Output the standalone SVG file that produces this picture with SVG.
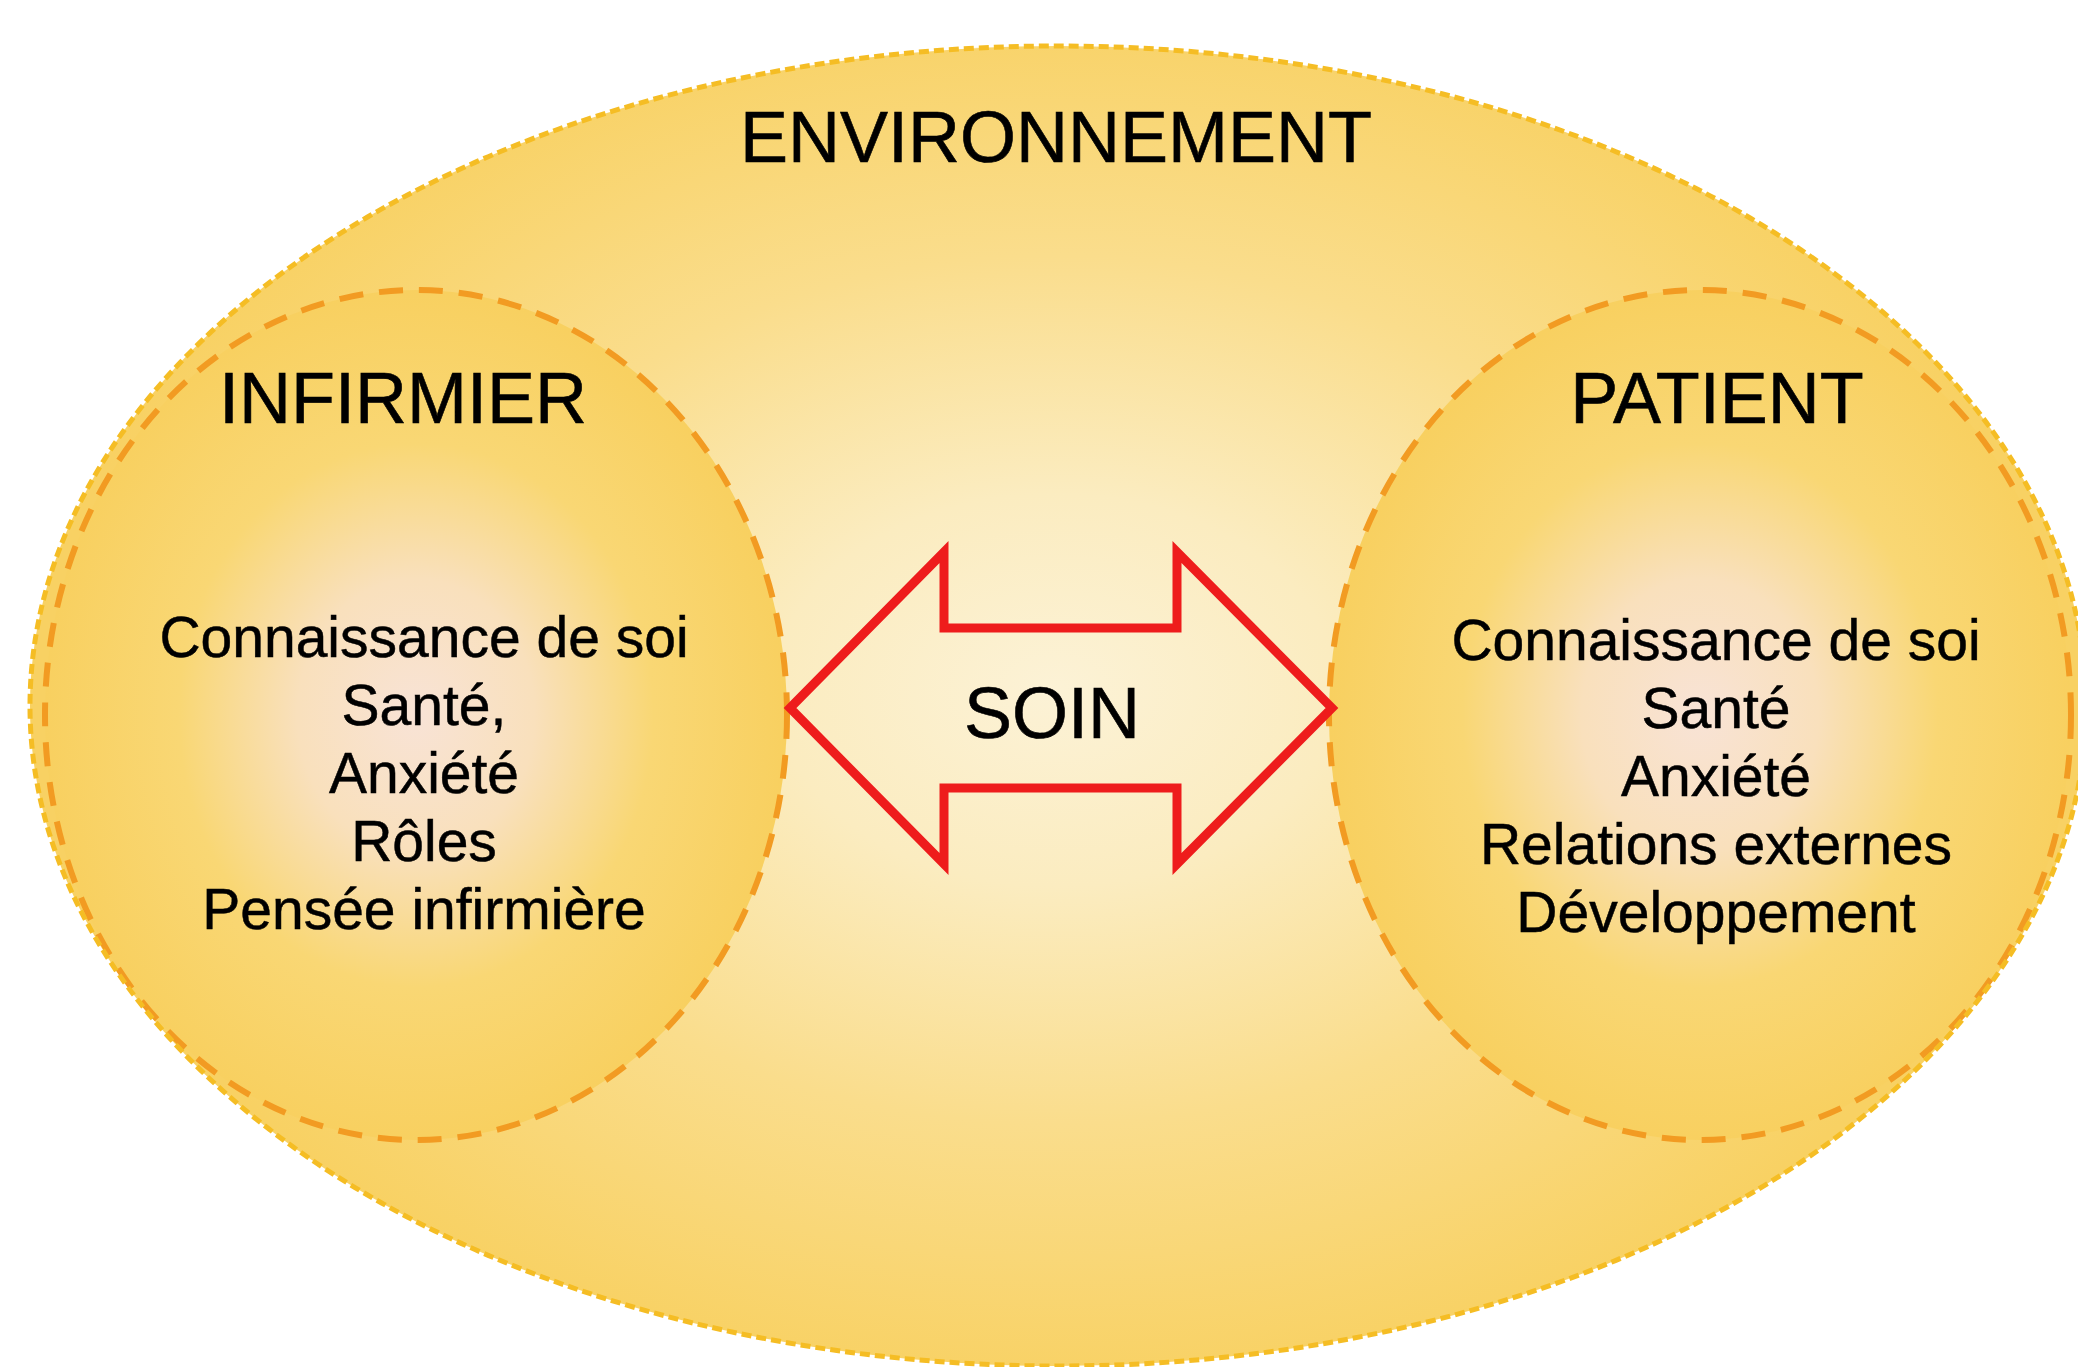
<svg xmlns="http://www.w3.org/2000/svg" width="2078" height="1367" viewBox="0 0 2078 1367">
  <defs>
    <radialGradient id="envGrad" cx="1055" cy="690" r="1000" gradientUnits="userSpaceOnUse" gradientTransform="translate(1055 690) scale(1 0.7) translate(-1055 -690)">
      <stop offset="0" stop-color="#fcf2d6"/>
      <stop offset="0.28" stop-color="#fbecc0"/>
      <stop offset="0.62" stop-color="#fadd8c"/>
      <stop offset="1" stop-color="#f8d163"/>
    </radialGradient>
    <radialGradient id="nodeGrad" cx="0.5" cy="0.5" r="0.5">
      <stop offset="0" stop-color="#f8e3d6"/>
      <stop offset="0.32" stop-color="#f9e0bc"/>
      <stop offset="0.64" stop-color="#f9d774"/>
      <stop offset="1" stop-color="#f8d060"/>
    </radialGradient>
    <style>
      .env-fill { fill: url(#envGrad); }
      .env-stroke { fill: none; stroke: #f5bd24; stroke-width: 5; stroke-dasharray: 10 5; }
      .node { fill: url(#nodeGrad); stroke: #f29b22; stroke-width: 6; stroke-dasharray: 24 16; }
      .title { font-family: "Liberation Sans", Arial, Helvetica, sans-serif; font-size: 72px; fill: #000; stroke: #000; stroke-width: 0.6; text-anchor: middle; }
      .body { font-family: "Liberation Sans", Arial, Helvetica, sans-serif; font-size: 57px; fill: #000; stroke: #000; stroke-width: 0.5; text-anchor: middle; }
      .arrow { fill: none; stroke: #ee1c1c; stroke-width: 9; stroke-linejoin: miter; stroke-miterlimit: 10; }
    </style>
  </defs>

  <rect x="0" y="0" width="2078" height="1367" fill="#ffffff"/>

  <g id="environnement">
    <ellipse class="env-fill" cx="1058" cy="706" rx="1028" ry="660"/>
    <text class="title" x="1056" y="162">ENVIRONNEMENT</text>
  </g>

  <g id="infirmier">
    <ellipse class="node" cx="416" cy="715" rx="371" ry="425"/>
    <text class="title" x="403" y="423">INFIRMIER</text>
    <text class="body" x="424" y="657">Connaissance de soi</text>
    <text class="body" x="424" y="725">Santé,</text>
    <text class="body" x="424" y="793">Anxiété</text>
    <text class="body" x="424" y="861">Rôles</text>
    <text class="body" x="424" y="929">Pensée infirmière</text>
  </g>

  <g id="patient">
    <ellipse class="node" cx="1700" cy="715" rx="371" ry="425"/>
    <text class="title" x="1717" y="423">PATIENT</text>
    <text class="body" x="1716" y="660">Connaissance de soi</text>
    <text class="body" x="1716" y="728">Santé</text>
    <text class="body" x="1716" y="796">Anxiété</text>
    <text class="body" x="1716" y="864">Relations externes</text>
    <text class="body" x="1716" y="932">Développement</text>
  </g>

  <g id="environnement-outline">
    <ellipse class="env-stroke" cx="1058" cy="706" rx="1028" ry="660"/>
  </g>

  <g id="connectors">
    <polygon class="arrow" points="790,708 944,552 944,628 1177,628 1177,552 1332,708 1177,864 1177,788 944,788 944,864"/>
  </g>

  <g id="soin">
    <text class="title" x="1052" y="738">SOIN</text>
  </g>
</svg>
